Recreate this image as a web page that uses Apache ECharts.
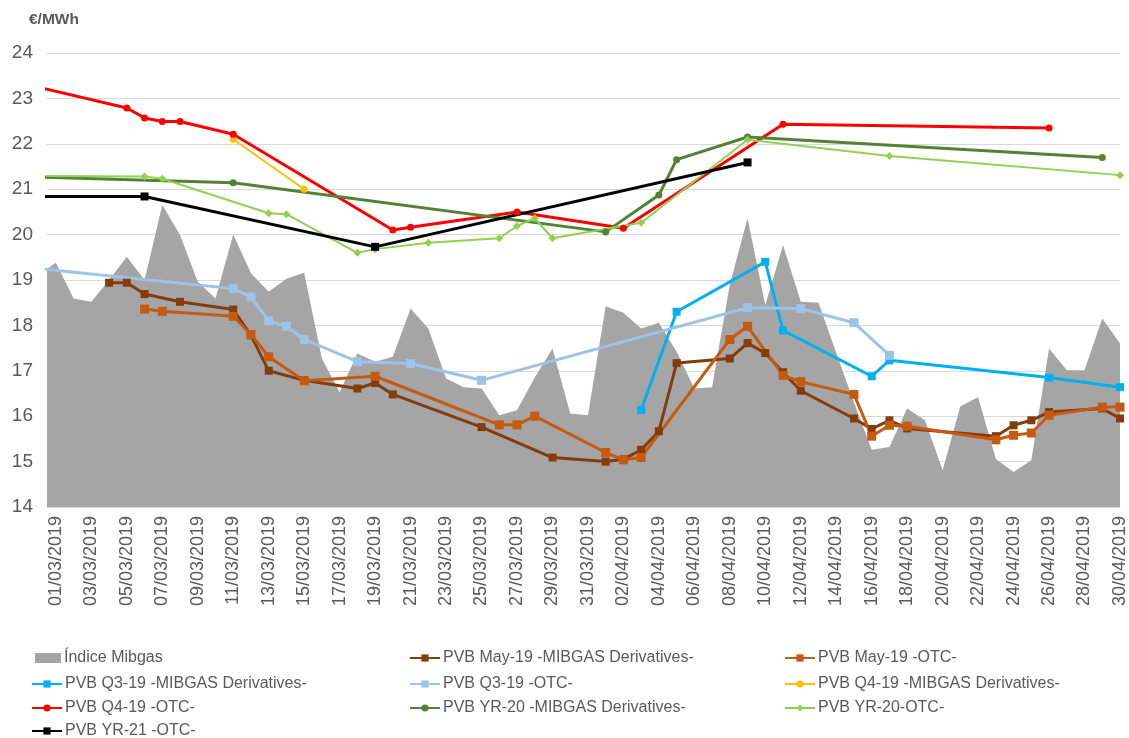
<!DOCTYPE html>
<html><head><meta charset="utf-8">
<script src="https://cdn.jsdelivr.net/npm/echarts@6/dist/echarts.min.js"></script>
<style>html,body{margin:0;padding:0;background:#fff}#c{width:1129px;height:738px}</style>
</head><body><div id="c"></div>
<script>
// Category dates (index 0 = 28/02/2019, an earlier point that is clipped at the left edge)
const dates = ["28/02/2019",
"01/03/2019","02/03/2019","03/03/2019","04/03/2019","05/03/2019","06/03/2019","07/03/2019","08/03/2019","09/03/2019","10/03/2019",
"11/03/2019","12/03/2019","13/03/2019","14/03/2019","15/03/2019","16/03/2019","17/03/2019","18/03/2019","19/03/2019","20/03/2019",
"21/03/2019","22/03/2019","23/03/2019","24/03/2019","25/03/2019","26/03/2019","27/03/2019","28/03/2019","29/03/2019","30/03/2019","31/03/2019",
"01/04/2019","02/04/2019","03/04/2019","04/04/2019","05/04/2019","06/04/2019","07/04/2019","08/04/2019","09/04/2019","10/04/2019",
"11/04/2019","12/04/2019","13/04/2019","14/04/2019","15/04/2019","16/04/2019","17/04/2019","18/04/2019","19/04/2019","20/04/2019",
"21/04/2019","22/04/2019","23/04/2019","24/04/2019","25/04/2019","26/04/2019","27/04/2019","28/04/2019","29/04/2019","30/04/2019"];

// Índice Mibgas, one value per date above
const mibgasIndex = [19.10,
19.38,18.59,18.52,19.00,19.51,19.00,20.65,19.99,18.96,18.59,
20.00,19.15,18.74,19.03,19.16,17.27,16.53,17.38,17.20,17.31,
18.37,17.93,16.83,16.64,16.61,16.02,16.13,16.85,17.49,16.06,16.02,
18.42,18.28,17.93,18.06,17.42,16.61,16.64,18.90,20.36,18.45,
19.77,18.52,18.50,17.40,16.30,15.26,15.32,16.17,15.91,14.81,
16.22,16.42,15.06,14.77,15.03,17.49,17.01,17.01,18.15,17.60];

const may19MibgasDates = ["04/03/2019","05/03/2019","06/03/2019","08/03/2019","11/03/2019","12/03/2019","13/03/2019","15/03/2019","18/03/2019","19/03/2019","20/03/2019","25/03/2019","29/03/2019","01/04/2019","02/04/2019","03/04/2019","04/04/2019","05/04/2019","08/04/2019","09/04/2019","10/04/2019","11/04/2019","12/04/2019","15/04/2019","16/04/2019","17/04/2019","18/04/2019","23/04/2019","24/04/2019","25/04/2019","26/04/2019","29/04/2019","30/04/2019"];
const may19MibgasValues = [18.94,18.94,18.69,18.52,18.35,17.78,17.00,16.79,16.61,16.73,16.48,15.76,15.09,15.00,15.05,15.26,15.67,17.17,17.27,17.61,17.39,16.97,16.56,15.95,15.72,15.91,15.73,15.56,15.80,15.91,16.09,16.17,15.95];

const may19OtcDates = ["06/03/2019","07/03/2019","11/03/2019","12/03/2019","13/03/2019","15/03/2019","19/03/2019","26/03/2019","27/03/2019","28/03/2019","01/04/2019","02/04/2019","03/04/2019","08/04/2019","09/04/2019","11/04/2019","12/04/2019","15/04/2019","16/04/2019","17/04/2019","18/04/2019","23/04/2019","24/04/2019","25/04/2019","26/04/2019","29/04/2019","30/04/2019"];
const may19OtcValues = [18.36,18.31,18.20,17.80,17.31,16.78,16.88,15.81,15.81,16.00,15.20,15.04,15.09,17.69,17.98,16.90,16.76,16.48,15.56,15.80,15.78,15.48,15.58,15.63,16.02,16.20,16.20];

const q319MibgasDates = ["03/04/2019","05/04/2019","10/04/2019","11/04/2019","16/04/2019","17/04/2019","26/04/2019","30/04/2019"];
const q319MibgasValues = [16.14,18.30,19.40,17.89,16.88,17.23,16.85,16.64];

const q319OtcDates = ["28/02/2019","11/03/2019","12/03/2019","13/03/2019","14/03/2019","15/03/2019","18/03/2019","21/03/2019","25/03/2019","09/04/2019","12/04/2019","15/04/2019","17/04/2019"];
const q319OtcValues = [19.25,18.81,18.63,18.10,17.98,17.69,17.20,17.16,16.79,18.39,18.37,18.06,17.34];

const q419MibgasDates = ["11/03/2019","15/03/2019"];
const q419MibgasValues = [22.10,21.00];

const q419OtcDates = ["28/02/2019","05/03/2019","06/03/2019","07/03/2019","08/03/2019","11/03/2019","20/03/2019","21/03/2019","27/03/2019","02/04/2019","11/04/2019","26/04/2019"];
const q419OtcValues = [23.25,22.79,22.57,22.49,22.49,22.21,20.10,20.16,20.50,20.14,22.43,22.35];

const yr20MibgasDates = ["28/02/2019","11/03/2019","01/04/2019","04/04/2019","05/04/2019","09/04/2019","29/04/2019"];
const yr20MibgasValues = [21.27,21.14,20.06,20.87,21.65,22.15,21.70];

const yr20OtcDates = ["28/02/2019","06/03/2019","07/03/2019","13/03/2019","14/03/2019","18/03/2019","19/03/2019","22/03/2019","26/03/2019","27/03/2019","28/03/2019","29/03/2019","03/04/2019","09/04/2019","17/04/2019","30/04/2019"];
const yr20OtcValues = [21.29,21.28,21.23,20.47,20.45,19.60,19.68,19.82,19.92,20.19,20.36,19.92,20.26,22.09,21.73,21.31];

const yr21OtcDates = ["28/02/2019","06/03/2019","19/03/2019","09/04/2019"];
const yr21OtcValues = [20.84,20.84,19.73,21.59];

const labelIdx = [1,3,5,7,9,11,13,15,17,19,21,23,25,27,29,31,33,35,37,39,41,43,45,47,49,51,53,55,57,59,61];

function pairs(ds, vs){ return ds.map((d,i)=>[dates.indexOf(d), vs[i]]); }

const chart = echarts.init(document.getElementById('c'), null, {renderer:'canvas'});
const txt = '#595959';
const ff = 'Liberation Sans, Arial, sans-serif';
function lineSeries(name, ds, vs, color, width, symbol, size){
  return {name, type:'line', data:pairs(ds,vs), color, symbol, symbolSize:size,
    lineStyle:{color, width}, itemStyle:{color, borderWidth:0}, showSymbol:true, clip:true, z:3};
}
const series = [
  {name:'Índice Mibgas', type:'line', data:mibgasIndex.map((v,i)=>[i,v]), symbol:'none',
   lineStyle:{width:0}, areaStyle:{color:'#A5A5A5', opacity:1, origin:'start'}, color:'#A5A5A5', itemStyle:{color:'#A5A5A5'}, clip:true, z:2},
  lineSeries('PVB May-19 -MIBGAS Derivatives-', may19MibgasDates, may19MibgasValues, '#843C0C', 3, 'rect', 8),
  lineSeries('PVB May-19 -OTC-', may19OtcDates, may19OtcValues, '#C55A11', 3, 'rect', 9),
  lineSeries('PVB Q3-19 -MIBGAS Derivatives-', q319MibgasDates, q319MibgasValues, '#00B0F0', 3, 'rect', 8),
  lineSeries('PVB Q3-19 -OTC-', q319OtcDates, q319OtcValues, '#9DC3E6', 3, 'rect', 9),
  lineSeries('PVB Q4-19 -MIBGAS Derivatives-', q419MibgasDates, q419MibgasValues, '#FFC000', 2, 'circle', 7),
  lineSeries('PVB Q4-19 -OTC-', q419OtcDates, q419OtcValues, '#FF0000', 3, 'circle', 7),
  lineSeries('PVB YR-20 -MIBGAS Derivatives-', yr20MibgasDates, yr20MibgasValues, '#548235', 3, 'circle', 7),
  lineSeries('PVB YR-20-OTC-', yr20OtcDates, yr20OtcValues, '#92D050', 2, 'diamond', 8),
  lineSeries('PVB YR-21 -OTC-', yr21OtcDates, yr21OtcValues, '#000000', 3, 'rect', 8)
];
// legend grid: [name, column, row]
const colLeft = [26, 404, 779];
const rowTop = [645, 671, 695, 718];
const legendCells = [
  ['Índice Mibgas',0,0], ['PVB May-19 -MIBGAS Derivatives-',1,0], ['PVB May-19 -OTC-',2,0],
  ['PVB Q3-19 -MIBGAS Derivatives-',0,1], ['PVB Q3-19 -OTC-',1,1], ['PVB Q4-19 -MIBGAS Derivatives-',2,1],
  ['PVB Q4-19 -OTC-',0,2], ['PVB YR-20 -MIBGAS Derivatives-',1,2], ['PVB YR-20-OTC-',2,2],
  ['PVB YR-21 -OTC-',0,3]
];
const legends = legendCells.map(([n,c,r])=>({
  orient:'horizontal', left:colLeft[c] + (n==='Índice Mibgas'?4:0), top:rowTop[r],
  itemWidth:n==='Índice Mibgas'?26:30, itemHeight:n==='Índice Mibgas'?10:9,
  textStyle:{fontSize:16, color:txt, fontFamily:ff, padding:[0,0,0,-2]},
  data:[n==='Índice Mibgas' ? {name:n, icon:'rect', itemStyle:{color:'#A5A5A5'}} : {name:n}],
  selectedMode:false
}));
chart.setOption({
  animation:false,
  backgroundColor:'#fff',
  textStyle:{fontFamily:ff},
  title:{text:'€/MWh', left:24, top:7, textStyle:{fontSize:15.5, fontWeight:'bold', color:txt, fontFamily:ff}},
  grid:{left:47, right:9, top:53, bottom:231, containLabel:false},
  xAxis:{type:'value', min:0.5, max:61,
    axisLine:{show:true, lineStyle:{color:'#D9D9D9', width:1}},
    axisTick:{show:false}, splitLine:{show:false},
    axisLabel:{customValues:labelIdx, rotate:90, margin:9, fontSize:18, color:txt,
      formatter:v=>dates[Math.round(v)]}},
  yAxis:{type:'value', min:14, max:24, interval:1,
    axisLine:{show:false}, axisTick:{show:false},
    splitLine:{lineStyle:{color:'#D9D9D9', width:1}},
    axisLabel:{fontSize:19, color:txt, margin:14}},
  legend:legends,
  series
});
</script></body></html>
